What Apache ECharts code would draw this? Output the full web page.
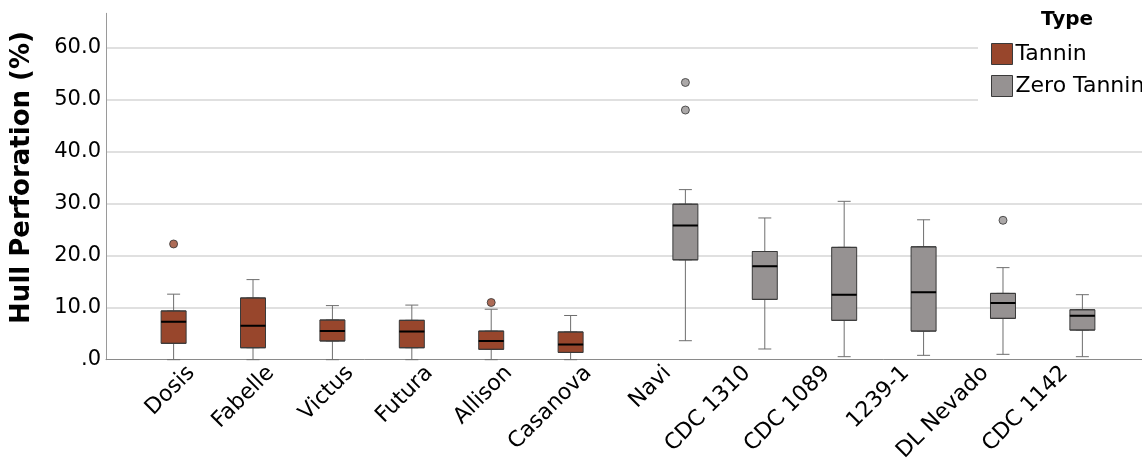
<!DOCTYPE html>
<html>
<head>
<meta charset="utf-8">
<script src="https://cdn.jsdelivr.net/npm/echarts@6/dist/echarts.min.js"></script>
<style>
  html, body { margin: 0; padding: 0; background: #fff; }
  #chart { width: 1142px; height: 458px; }
</style>
</head>
<body>
<div id="chart"></div>
<script>
// categories along the x axis
var categories = ['Dosis', 'Fabelle', 'Victus', 'Futura', 'Allison', 'Casanova',
  'Navi', 'CDC 1310', 'CDC 1089', '1239-1', 'DL Nevado', 'CDC 1142'];

// [min, Q1, median, Q3, max], null = no box in that slot
var tanninBox = [
  [0, 3.15, 7.3, 9.37, 12.6],
  [0, 2.3, 6.55, 11.87, 15.4],
  [0, 3.6, 5.5, 7.63, 10.4],
  [0, 2.3, 5.4, 7.57, 10.5],
  [0, 2.0, 3.6, 5.5, 9.7],
  [0, 1.4, 2.9, 5.33, 8.5],
  null, null, null, null, null, null
];
var zeroBox = [
  null, null, null, null, null, null,
  [3.65, 19.2, 25.8, 29.9, 32.7],
  [2.06, 11.6, 17.95, 20.8, 27.25],
  [0.58, 7.57, 12.5, 21.6, 30.45],
  [0.84, 5.5, 12.95, 21.7, 26.9],
  [1.03, 7.95, 10.9, 12.75, 17.7],
  [0.58, 5.7, 8.46, 9.6, 12.5]
];

// outliers
var tanninOutliers = [['Dosis', 22.25], ['Allison', 11.0]];
var zeroOutliers = [['Navi', 53.3], ['Navi', 48.0], ['DL Nevado', 26.8]];

// y ticks
var yMin = 0, yMax = 66.6, yStep = 10;

var font = 'DejaVu Sans';
var tanninColor = '#98462c';
var zeroColor = '#969292';
var boxBorder = '#3a3a3a';

function toData(list, fn) {
  return list.map(function (d) { return d ? fn(d) : '-'; });
}
function whole(d) { return d; }
function bodyOnly(d) { return [d[1], d[1], d[2], d[3], d[3]]; }
function medianOnly(d) { return [d[2], d[2], d[2], d[2], d[2]]; }

var chart = echarts.init(document.getElementById('chart'));

var catAxis = function (show) {
  return {
    type: 'category',
    gridIndex: 1,
    data: categories,
    show: show,
    axisLine: { show: false },
    axisTick: { show: false },
    splitLine: { show: false },
    axisLabel: {
      interval: 0,
      rotate: 45,
      margin: 10,
      fontSize: 22,
      fontFamily: font,
      color: '#000'
    }
  };
};

function boxSeries(name, data, axis, width, style, z) {
  return {
    name: name,
    type: 'boxplot',
    xAxisIndex: axis,
    yAxisIndex: 1,
    boxWidth: [width, width],
    data: data,
    z: z,
    itemStyle: style,
    emphasis: { disabled: true }
  };
}

var option = {
  animation: false,
  title: {
    text: 'Type',
    left: 1036,
    top: 5,
    textStyle: { fontFamily: font, fontSize: 20, fontWeight: 'bold', color: '#000' }
  },
  legend: {
    data: [
      { name: 'Tannin', itemStyle: { color: tanninColor, borderColor: boxBorder, borderWidth: 1 } },
      { name: 'Zero Tannin', itemStyle: { color: zeroColor, borderColor: boxBorder, borderWidth: 1 } }
    ],
    orient: 'vertical',
    left: 978,
    top: 38,
    padding: [5, 20, 8, 13],
    backgroundColor: '#fff',
    icon: 'rect',
    itemWidth: 21,
    itemHeight: 21,
    itemGap: 10,
    selectedMode: false,
    textStyle: { fontFamily: font, fontSize: 22, color: '#000', padding: [0, 0, 0, -2] }
  },
  grid: [
    { left: 106, right: 0, top: 13.3, bottom: 98.3, outerBoundsMode: 'none', containLabel: false },
    { left: 151.6, right: 37.6, top: 13.3, bottom: 98.3, outerBoundsMode: 'none', containLabel: false }
  ],
  xAxis: [
    {
      type: 'value', gridIndex: 0, min: 0, max: 1,
      axisLine: { show: true, lineStyle: { color: '#8a8a8a', width: 1 } },
      axisTick: { show: false }, axisLabel: { show: false }, splitLine: { show: false }
    },
    catAxis(true),
    catAxis(false),
    catAxis(false)
  ],
  yAxis: [
    {
      type: 'value', gridIndex: 0, min: yMin, max: yMax, interval: yStep,
      axisLine: { show: true, lineStyle: { color: '#9a9a9a', width: 1 } },
      axisTick: { show: false },
      splitLine: { show: true, showMinLine: false, showMaxLine: false, lineStyle: { color: '#d6d6d6', width: 1.5 } },
      axisLabel: {
        margin: 5,
        fontSize: 21,
        fontFamily: font,
        color: '#000',
        formatter: function (v) {
          if (v % yStep !== 0) return '';
          return v === 0 ? '.0' : v.toFixed(1);
        }
      },
      name: 'Hull Perforation (%)',
      nameLocation: 'middle',
      nameGap: 71,
      nameTextStyle: { fontFamily: font, fontSize: 26, fontWeight: 'bold', color: '#000', padding: [0, 0, 0, 18] }
    },
    { type: 'value', gridIndex: 1, min: yMin, max: yMax, show: false }
  ],
  series: [
    boxSeries('Tannin whisker', toData(tanninBox, whole), 1, 13, { color: '#fff', borderColor: '#6e6e6e', borderWidth: 1 }, 2),
    boxSeries('Zero whisker', toData(zeroBox, whole), 1, 13, { color: '#fff', borderColor: '#6e6e6e', borderWidth: 1 }, 2),
    boxSeries('Tannin', toData(tanninBox, bodyOnly), 2, 25, { color: tanninColor, borderColor: boxBorder, borderWidth: 1 }, 3),
    boxSeries('Zero Tannin', toData(zeroBox, bodyOnly), 2, 25, { color: zeroColor, borderColor: boxBorder, borderWidth: 1 }, 3),
    boxSeries('Tannin median', toData(tanninBox, medianOnly), 3, 25, { color: 'none', borderColor: '#000', borderWidth: 2 }, 4),
    boxSeries('Zero median', toData(zeroBox, medianOnly), 3, 25, { color: 'none', borderColor: '#000', borderWidth: 2 }, 4),
    {
      name: 'Tannin outlier', type: 'scatter', xAxisIndex: 1, yAxisIndex: 1,
      data: tanninOutliers, symbolSize: 8, symbolOffset: [-17.7, 0], z: 5,
      itemStyle: { color: tanninColor, borderColor: '#333', borderWidth: 1 },
      emphasis: { disabled: true }
    },
    {
      name: 'Zero outlier', type: 'scatter', xAxisIndex: 1, yAxisIndex: 1,
      data: zeroOutliers, symbolSize: 8, symbolOffset: [17.7, 0], z: 5,
      itemStyle: { color: zeroColor, borderColor: '#333', borderWidth: 1 },
      emphasis: { disabled: true }
    }
  ]
};

chart.setOption(option);
</script>
</body>
</html>
